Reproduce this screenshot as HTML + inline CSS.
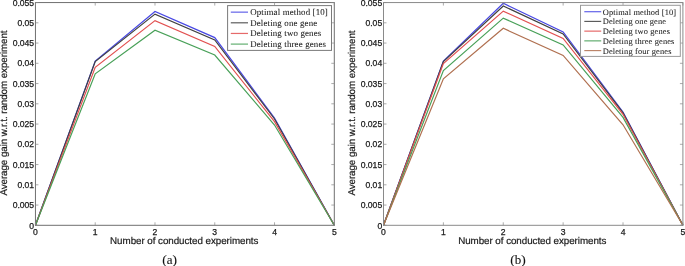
<!DOCTYPE html>
<html><head><meta charset="utf-8"><style>
html,body{margin:0;padding:0;background:#fff;}
body{width:685px;height:266px;overflow:hidden;}
svg{display:block;will-change:transform;}
.dl{filter:blur(0.35px);}
.tk{font-family:"Liberation Sans",sans-serif;font-size:8.6px;fill:#1a1a1a;stroke:#1a1a1a;stroke-width:0.25px;}
.al{font-family:"Liberation Sans",sans-serif;font-size:9.8px;text-rendering:geometricPrecision;fill:#1a1a1a;stroke:#1a1a1a;stroke-width:0.2px;}
.lg{font-family:"Liberation Serif",serif;font-size:8.8px;fill:#1a1a1a;stroke:#1a1a1a;stroke-width:0.06px;text-rendering:geometricPrecision;}
.pr{font-size:13.5px;}
.cap{font-family:"Liberation Serif",serif;font-size:13px;fill:#111;stroke:#111;stroke-width:0.1px;}
</style></head><body>
<svg width="685" height="266" viewBox="0 0 685 266">
<rect width="685" height="266" fill="#fff"/>
<g class="dl">
<polyline points="35.45,225.30 95.22,61.00 154.99,11.50 214.76,37.60 274.53,118.00 334.30,225.30" fill="none" stroke="#4848e4" stroke-width="1.2" stroke-linejoin="miter"/>
<polyline points="35.45,225.30 95.22,61.50 154.99,14.10 214.76,40.00 274.53,119.00 334.30,225.30" fill="none" stroke="#404040" stroke-width="1.2" stroke-linejoin="miter"/>
<polyline points="35.45,225.30 95.22,67.30 154.99,20.60 214.76,46.50 274.53,121.70 334.30,225.30" fill="none" stroke="#e25050" stroke-width="1.2" stroke-linejoin="miter"/>
<polyline points="35.45,225.30 95.22,73.80 154.99,30.30 214.76,55.00 274.53,125.00 334.30,225.30" fill="none" stroke="#48a058" stroke-width="1.2" stroke-linejoin="miter"/>
</g>
<rect x="35.45" y="2.56" width="298.85" height="222.74" fill="none" stroke="#707070" stroke-width="1"/>
<line x1="35.45" y1="225.3" x2="35.45" y2="222.3" stroke="#888" stroke-width="0.7"/>
<line x1="35.45" y1="2.56" x2="35.45" y2="5.5600000000000005" stroke="#888" stroke-width="0.7"/>
<text x="35.45" y="234.60" class="tk" text-anchor="middle">0</text>
<line x1="95.22" y1="225.3" x2="95.22" y2="222.3" stroke="#888" stroke-width="0.7"/>
<line x1="95.22" y1="2.56" x2="95.22" y2="5.5600000000000005" stroke="#888" stroke-width="0.7"/>
<text x="95.22" y="234.60" class="tk" text-anchor="middle">1</text>
<line x1="154.99" y1="225.3" x2="154.99" y2="222.3" stroke="#888" stroke-width="0.7"/>
<line x1="154.99" y1="2.56" x2="154.99" y2="5.5600000000000005" stroke="#888" stroke-width="0.7"/>
<text x="154.99" y="234.60" class="tk" text-anchor="middle">2</text>
<line x1="214.76" y1="225.3" x2="214.76" y2="222.3" stroke="#888" stroke-width="0.7"/>
<line x1="214.76" y1="2.56" x2="214.76" y2="5.5600000000000005" stroke="#888" stroke-width="0.7"/>
<text x="214.76" y="234.60" class="tk" text-anchor="middle">3</text>
<line x1="274.53" y1="225.3" x2="274.53" y2="222.3" stroke="#888" stroke-width="0.7"/>
<line x1="274.53" y1="2.56" x2="274.53" y2="5.5600000000000005" stroke="#888" stroke-width="0.7"/>
<text x="274.53" y="234.60" class="tk" text-anchor="middle">4</text>
<line x1="334.30" y1="225.3" x2="334.30" y2="222.3" stroke="#888" stroke-width="0.7"/>
<line x1="334.30" y1="2.56" x2="334.30" y2="5.5600000000000005" stroke="#888" stroke-width="0.7"/>
<text x="334.30" y="234.60" class="tk" text-anchor="middle">5</text>
<line x1="35.45" y1="225.30" x2="38.45" y2="225.30" stroke="#888" stroke-width="0.7"/>
<line x1="334.3" y1="225.30" x2="331.3" y2="225.30" stroke="#888" stroke-width="0.7"/>
<text x="34.15" y="229.30" class="tk" text-anchor="end">0</text>
<line x1="35.45" y1="205.05" x2="38.45" y2="205.05" stroke="#888" stroke-width="0.7"/>
<line x1="334.3" y1="205.05" x2="331.3" y2="205.05" stroke="#888" stroke-width="0.7"/>
<text x="34.15" y="208.05" class="tk" text-anchor="end">0.005</text>
<line x1="35.45" y1="184.80" x2="38.45" y2="184.80" stroke="#888" stroke-width="0.7"/>
<line x1="334.3" y1="184.80" x2="331.3" y2="184.80" stroke="#888" stroke-width="0.7"/>
<text x="34.15" y="187.80" class="tk" text-anchor="end">0.01</text>
<line x1="35.45" y1="164.55" x2="38.45" y2="164.55" stroke="#888" stroke-width="0.7"/>
<line x1="334.3" y1="164.55" x2="331.3" y2="164.55" stroke="#888" stroke-width="0.7"/>
<text x="34.15" y="167.55" class="tk" text-anchor="end">0.015</text>
<line x1="35.45" y1="144.30" x2="38.45" y2="144.30" stroke="#888" stroke-width="0.7"/>
<line x1="334.3" y1="144.30" x2="331.3" y2="144.30" stroke="#888" stroke-width="0.7"/>
<text x="34.15" y="147.30" class="tk" text-anchor="end">0.02</text>
<line x1="35.45" y1="124.05" x2="38.45" y2="124.05" stroke="#888" stroke-width="0.7"/>
<line x1="334.3" y1="124.05" x2="331.3" y2="124.05" stroke="#888" stroke-width="0.7"/>
<text x="34.15" y="127.05" class="tk" text-anchor="end">0.025</text>
<line x1="35.45" y1="103.81" x2="38.45" y2="103.81" stroke="#888" stroke-width="0.7"/>
<line x1="334.3" y1="103.81" x2="331.3" y2="103.81" stroke="#888" stroke-width="0.7"/>
<text x="34.15" y="106.81" class="tk" text-anchor="end">0.03</text>
<line x1="35.45" y1="83.56" x2="38.45" y2="83.56" stroke="#888" stroke-width="0.7"/>
<line x1="334.3" y1="83.56" x2="331.3" y2="83.56" stroke="#888" stroke-width="0.7"/>
<text x="34.15" y="86.56" class="tk" text-anchor="end">0.035</text>
<line x1="35.45" y1="63.31" x2="38.45" y2="63.31" stroke="#888" stroke-width="0.7"/>
<line x1="334.3" y1="63.31" x2="331.3" y2="63.31" stroke="#888" stroke-width="0.7"/>
<text x="34.15" y="66.31" class="tk" text-anchor="end">0.04</text>
<line x1="35.45" y1="43.06" x2="38.45" y2="43.06" stroke="#888" stroke-width="0.7"/>
<line x1="334.3" y1="43.06" x2="331.3" y2="43.06" stroke="#888" stroke-width="0.7"/>
<text x="34.15" y="46.06" class="tk" text-anchor="end">0.045</text>
<line x1="35.45" y1="22.81" x2="38.45" y2="22.81" stroke="#888" stroke-width="0.7"/>
<line x1="334.3" y1="22.81" x2="331.3" y2="22.81" stroke="#888" stroke-width="0.7"/>
<text x="34.15" y="25.81" class="tk" text-anchor="end">0.05</text>
<line x1="35.45" y1="2.56" x2="38.45" y2="2.56" stroke="#888" stroke-width="0.7"/>
<line x1="334.3" y1="2.56" x2="331.3" y2="2.56" stroke="#888" stroke-width="0.7"/>
<text x="34.15" y="5.56" class="tk" text-anchor="end">0.055</text>
<rect x="227.6" y="5.6" width="103.9" height="44.8" fill="#fff" stroke="#7a7a7a" stroke-width="1"/>
<line x1="230.8" y1="12.15" x2="248.0" y2="12.15" stroke="#4848e4" stroke-width="1.2" stroke-opacity="0.85"/>
<text x="250.2" y="15.05" class="lg" style="font-size:8.9px;letter-spacing:0.15px">Optimal method [10]</text>
<line x1="230.8" y1="22.80" x2="248.0" y2="22.80" stroke="#404040" stroke-width="1.2" stroke-opacity="0.85"/>
<text x="250.2" y="25.70" class="lg" style="font-size:8.9px;letter-spacing:0.15px">Deleting one gene</text>
<line x1="230.8" y1="33.45" x2="248.0" y2="33.45" stroke="#e25050" stroke-width="1.2" stroke-opacity="0.85"/>
<text x="250.2" y="36.35" class="lg" style="font-size:8.9px;letter-spacing:0.15px">Deleting two genes</text>
<line x1="230.8" y1="44.10" x2="248.0" y2="44.10" stroke="#48a058" stroke-width="1.2" stroke-opacity="0.85"/>
<text x="250.2" y="47.00" class="lg" style="font-size:8.9px;letter-spacing:0.15px">Deleting three genes</text>
<text x="110.10" y="244.4" class="al" textLength="148.3" lengthAdjust="spacing">Number of conducted experiments</text>
<text transform="translate(7.30,195.6) rotate(-90)" class="al" textLength="165.2" lengthAdjust="spacing">Average gain w.r.t. random experiment</text>
<g class="dl">
<polyline points="383.50,225.30 443.38,61.00 503.26,3.30 563.14,31.90 623.02,112.00 682.90,225.30" fill="none" stroke="#4848e4" stroke-width="1.2" stroke-linejoin="miter"/>
<polyline points="383.50,225.30 443.38,61.60 503.26,6.00 563.14,33.90 623.02,112.90 682.90,225.30" fill="none" stroke="#404040" stroke-width="1.2" stroke-linejoin="miter"/>
<polyline points="383.50,225.30 443.38,63.60 503.26,11.10 563.14,38.40 623.02,114.30 682.90,225.30" fill="none" stroke="#e25050" stroke-width="1.2" stroke-linejoin="miter"/>
<polyline points="383.50,225.30 443.38,70.60 503.26,18.10 563.14,44.90 623.02,117.40 682.90,225.30" fill="none" stroke="#48a058" stroke-width="1.2" stroke-linejoin="miter"/>
<polyline points="383.50,225.30 443.38,78.80 503.26,28.30 563.14,55.40 623.02,124.80 682.90,225.30" fill="none" stroke="#b07050" stroke-width="1.2" stroke-linejoin="miter"/>
</g>
<rect x="383.5" y="2.56" width="299.40" height="222.74" fill="none" stroke="#8a8a8a" stroke-width="1"/>
<line x1="383.50" y1="225.3" x2="383.50" y2="222.3" stroke="#888" stroke-width="0.7"/>
<line x1="383.50" y1="2.56" x2="383.50" y2="5.5600000000000005" stroke="#888" stroke-width="0.7"/>
<text x="383.50" y="234.60" class="tk" text-anchor="middle">0</text>
<line x1="443.38" y1="225.3" x2="443.38" y2="222.3" stroke="#888" stroke-width="0.7"/>
<line x1="443.38" y1="2.56" x2="443.38" y2="5.5600000000000005" stroke="#888" stroke-width="0.7"/>
<text x="443.38" y="234.60" class="tk" text-anchor="middle">1</text>
<line x1="503.26" y1="225.3" x2="503.26" y2="222.3" stroke="#888" stroke-width="0.7"/>
<line x1="503.26" y1="2.56" x2="503.26" y2="5.5600000000000005" stroke="#888" stroke-width="0.7"/>
<text x="503.26" y="234.60" class="tk" text-anchor="middle">2</text>
<line x1="563.14" y1="225.3" x2="563.14" y2="222.3" stroke="#888" stroke-width="0.7"/>
<line x1="563.14" y1="2.56" x2="563.14" y2="5.5600000000000005" stroke="#888" stroke-width="0.7"/>
<text x="563.14" y="234.60" class="tk" text-anchor="middle">3</text>
<line x1="623.02" y1="225.3" x2="623.02" y2="222.3" stroke="#888" stroke-width="0.7"/>
<line x1="623.02" y1="2.56" x2="623.02" y2="5.5600000000000005" stroke="#888" stroke-width="0.7"/>
<text x="623.02" y="234.60" class="tk" text-anchor="middle">4</text>
<line x1="682.90" y1="225.3" x2="682.90" y2="222.3" stroke="#888" stroke-width="0.7"/>
<line x1="682.90" y1="2.56" x2="682.90" y2="5.5600000000000005" stroke="#888" stroke-width="0.7"/>
<text x="682.90" y="234.60" class="tk" text-anchor="middle">5</text>
<line x1="383.5" y1="225.30" x2="386.5" y2="225.30" stroke="#888" stroke-width="0.7"/>
<line x1="682.9" y1="225.30" x2="679.9" y2="225.30" stroke="#888" stroke-width="0.7"/>
<text x="382.20" y="229.30" class="tk" text-anchor="end">0</text>
<line x1="383.5" y1="205.05" x2="386.5" y2="205.05" stroke="#888" stroke-width="0.7"/>
<line x1="682.9" y1="205.05" x2="679.9" y2="205.05" stroke="#888" stroke-width="0.7"/>
<text x="382.20" y="208.05" class="tk" text-anchor="end">0.005</text>
<line x1="383.5" y1="184.80" x2="386.5" y2="184.80" stroke="#888" stroke-width="0.7"/>
<line x1="682.9" y1="184.80" x2="679.9" y2="184.80" stroke="#888" stroke-width="0.7"/>
<text x="382.20" y="187.80" class="tk" text-anchor="end">0.01</text>
<line x1="383.5" y1="164.55" x2="386.5" y2="164.55" stroke="#888" stroke-width="0.7"/>
<line x1="682.9" y1="164.55" x2="679.9" y2="164.55" stroke="#888" stroke-width="0.7"/>
<text x="382.20" y="167.55" class="tk" text-anchor="end">0.015</text>
<line x1="383.5" y1="144.30" x2="386.5" y2="144.30" stroke="#888" stroke-width="0.7"/>
<line x1="682.9" y1="144.30" x2="679.9" y2="144.30" stroke="#888" stroke-width="0.7"/>
<text x="382.20" y="147.30" class="tk" text-anchor="end">0.02</text>
<line x1="383.5" y1="124.05" x2="386.5" y2="124.05" stroke="#888" stroke-width="0.7"/>
<line x1="682.9" y1="124.05" x2="679.9" y2="124.05" stroke="#888" stroke-width="0.7"/>
<text x="382.20" y="127.05" class="tk" text-anchor="end">0.025</text>
<line x1="383.5" y1="103.81" x2="386.5" y2="103.81" stroke="#888" stroke-width="0.7"/>
<line x1="682.9" y1="103.81" x2="679.9" y2="103.81" stroke="#888" stroke-width="0.7"/>
<text x="382.20" y="106.81" class="tk" text-anchor="end">0.03</text>
<line x1="383.5" y1="83.56" x2="386.5" y2="83.56" stroke="#888" stroke-width="0.7"/>
<line x1="682.9" y1="83.56" x2="679.9" y2="83.56" stroke="#888" stroke-width="0.7"/>
<text x="382.20" y="86.56" class="tk" text-anchor="end">0.035</text>
<line x1="383.5" y1="63.31" x2="386.5" y2="63.31" stroke="#888" stroke-width="0.7"/>
<line x1="682.9" y1="63.31" x2="679.9" y2="63.31" stroke="#888" stroke-width="0.7"/>
<text x="382.20" y="66.31" class="tk" text-anchor="end">0.04</text>
<line x1="383.5" y1="43.06" x2="386.5" y2="43.06" stroke="#888" stroke-width="0.7"/>
<line x1="682.9" y1="43.06" x2="679.9" y2="43.06" stroke="#888" stroke-width="0.7"/>
<text x="382.20" y="46.06" class="tk" text-anchor="end">0.045</text>
<line x1="383.5" y1="22.81" x2="386.5" y2="22.81" stroke="#888" stroke-width="0.7"/>
<line x1="682.9" y1="22.81" x2="679.9" y2="22.81" stroke="#888" stroke-width="0.7"/>
<text x="382.20" y="25.81" class="tk" text-anchor="end">0.05</text>
<line x1="383.5" y1="2.56" x2="386.5" y2="2.56" stroke="#888" stroke-width="0.7"/>
<line x1="682.9" y1="2.56" x2="679.9" y2="2.56" stroke="#888" stroke-width="0.7"/>
<text x="382.20" y="5.56" class="tk" text-anchor="end">0.055</text>
<rect x="580.5" y="5.3" width="99.79999999999995" height="51.1" fill="#fff" stroke="#999999" stroke-width="1"/>
<line x1="584.3" y1="11.70" x2="601.2" y2="11.70" stroke="#4848e4" stroke-width="1.2" stroke-opacity="0.85"/>
<text x="602.7" y="14.70" class="lg" style="font-size:8.4px;letter-spacing:0.15px">Optimal method [10]</text>
<line x1="584.3" y1="21.42" x2="601.2" y2="21.42" stroke="#404040" stroke-width="1.2" stroke-opacity="0.85"/>
<text x="602.7" y="24.42" class="lg" style="font-size:8.4px;letter-spacing:0.15px">Deleting one gene</text>
<line x1="584.3" y1="31.14" x2="601.2" y2="31.14" stroke="#e25050" stroke-width="1.2" stroke-opacity="0.85"/>
<text x="602.7" y="34.14" class="lg" style="font-size:8.4px;letter-spacing:0.15px">Deleting two genes</text>
<line x1="584.3" y1="40.86" x2="601.2" y2="40.86" stroke="#48a058" stroke-width="1.2" stroke-opacity="0.85"/>
<text x="602.7" y="43.86" class="lg" style="font-size:8.4px;letter-spacing:0.15px">Deleting three genes</text>
<line x1="584.3" y1="50.58" x2="601.2" y2="50.58" stroke="#b07050" stroke-width="1.2" stroke-opacity="0.85"/>
<text x="602.7" y="53.58" class="lg" style="font-size:8.4px;letter-spacing:0.15px">Deleting four genes</text>
<text x="458.15" y="244.4" class="al" textLength="148.3" lengthAdjust="spacing">Number of conducted experiments</text>
<text transform="translate(355.35,195.6) rotate(-90)" class="al" textLength="165.2" lengthAdjust="spacing">Average gain w.r.t. random experiment</text>
<text x="169.6" y="263.5" class="cap" text-anchor="middle"><tspan class="pr">(</tspan>a<tspan class="pr">)</tspan></text>
<text x="517.9" y="263.5" class="cap" text-anchor="middle"><tspan class="pr">(</tspan>b<tspan class="pr">)</tspan></text>
</svg>
</body></html>
